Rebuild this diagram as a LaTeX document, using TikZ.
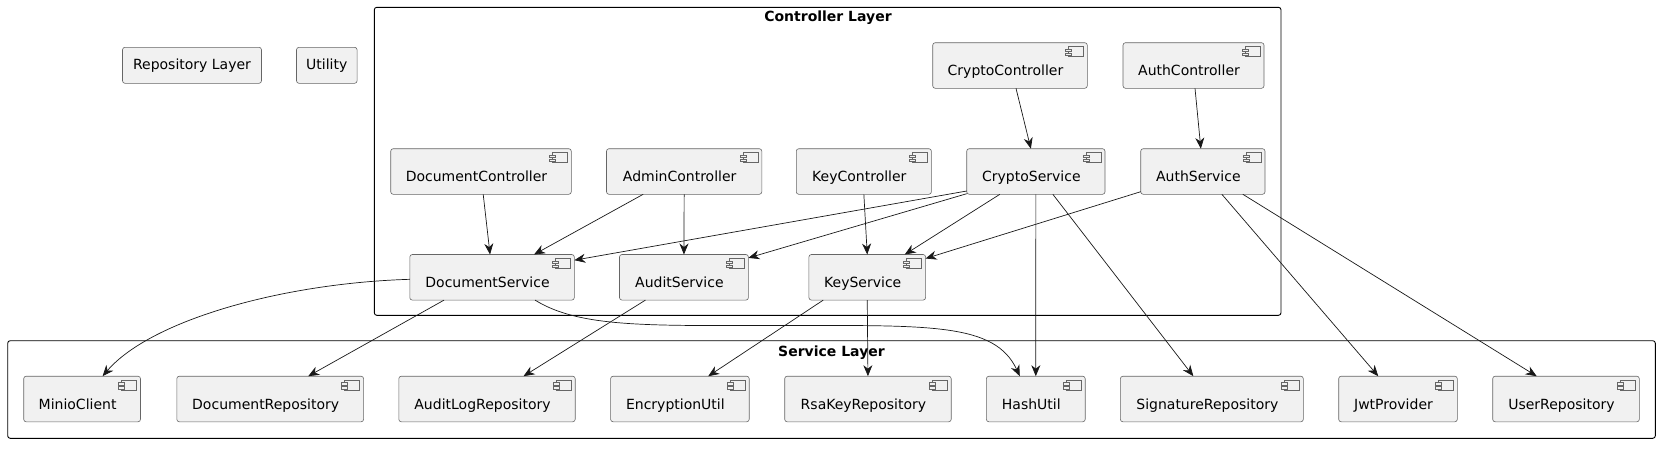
\documentclass[tikz,border=0pt]{standalone}
\usepackage{fontspec}
\setmainfont{DejaVu Sans}
\usetikzlibrary{arrows.meta,positioning}
\definecolor{compfill}{HTML}{F1F1F1}
\definecolor{umlline}{HTML}{181818}

\begin{document}
\begin{tikzpicture}[
  x=1pt,y=-1pt,
  font=\fontsize{14}{17}\selectfont,
  comp/.style={draw=black!60,line width=0.6pt,fill=compfill,rounded corners=2.5pt,
    minimum height=45.6pt,inner sep=0pt,outer sep=0pt,
    text height=23.5pt,text depth=3.3pt,execute at end node={\kern9pt}},
  plain/.style={draw=black!60,line width=0.6pt,fill=compfill,rounded corners=2.5pt,
    minimum height=36pt,inner sep=0pt,outer sep=0pt},
  layer/.style={draw=black,line width=0.9pt,rounded corners=2.5pt},
  ttl/.style={font=\fontsize{14}{17}\selectfont\bfseries},
  icon/.style={draw=black!60,line width=0.5pt,fill=compfill},
  arr/.style={-{Stealth[length=11pt,width=9pt,inset=3.5pt]},draw=umlline,line width=0.7pt}
]
\useasboundingbox (0,0) rectangle (1668,451);
% layers
\draw[layer] (374.3,7.3) rectangle (1281,315.3);
\draw[layer] (7.7,340.7) rectangle (1655.3,438.3);
\node[ttl] (ctltitle) at (828,17.5) {Controller Layer};
\node[ttl] (svctitle) at (831.5,352.5) {Service Layer};
% loose boxes
\node[plain,minimum width=139pt] (repolayer) at (192,65.3) {Repository Layer};
\node[plain,minimum width=60.6pt,right=35pt of repolayer] (utility) {Utility};
% controllers
\node[comp,minimum width=154.6pt] (cc) at (1010,65.5) {CryptoController};
\node[comp,minimum width=141pt,right=35.7pt of cc] (ac) {AuthController};
\node[comp,minimum width=180.6pt] (dc) at (481,171.5) {DocumentController};
\node[comp,minimum width=155.3pt,right=35.2pt of dc] (adc) {AdminController};
\node[comp,minimum width=135.1pt,right=34.5pt of adc] (kc) {KeyController};
\node[comp,minimum width=138.3pt,right=35.3pt of kc] (cs) {CryptoService};
\node[comp,minimum width=124.3pt,right=35.7pt of cs] (as) {AuthService};
% services
\node[comp,minimum width=164.5pt] (ds) at (492.05,277.3) {DocumentService};
\node[comp,minimum width=128.9pt,right=45.2pt of ds] (aus) {AuditService};
\node[comp,minimum width=116.7pt,right=60.5pt of aus] (ks) {KeyService};
% repositories and utils
\node[comp,minimum width=116.8pt] (mc) at (82.1,399) {MinioClient};
\node[comp,minimum width=186.8pt,right=36.3pt of mc] (dr) {DocumentRepository};
\node[comp,minimum width=176.4pt,right=35.2pt of dr] (alr) {AuditLogRepository};
\node[comp,minimum width=138.6pt,right=35.4pt of alr] (eu) {EncryptionUtil};
\node[comp,minimum width=166.5pt,right=35.5pt of eu] (rkr) {RsaKeyRepository};
\node[comp,minimum width=98.8pt,right=35.2pt of rkr] (hu) {HashUtil};
\node[comp,minimum width=182.9pt,right=35.2pt of hu] (sr) {SignatureRepository};
\node[comp,minimum width=118.6pt,right=35.4pt of sr] (jp) {JwtProvider};
\node[comp,minimum width=146.6pt,right=35.4pt of jp] (ur) {UserRepository};
% component icons
\foreach \n in {cc,ac,dc,adc,kc,cs,as,ds,aus,ks,mc,dr,alr,eu,rkr,hu,sr,jp,ur} {
  \draw[icon] ([xshift=-19pt,yshift=-4pt]\n.north east) rectangle ++(15,10);
  \draw[icon] ([xshift=-22pt,yshift=-6.5pt]\n.north east) rectangle ++(6,2.5);
  \draw[icon] ([xshift=-22pt,yshift=-10.5pt]\n.north east) rectangle ++(6,2.5);
}
\coordinate (dsbend) at (780,325.5);
% dependencies
\draw[arr] ([xshift=2.2pt]dc.south) -- ([xshift=-2pt]ds.north);
\draw[arr] ([xshift=-41pt]adc.south) -- ([xshift=42pt]ds.north);
\draw[arr] (adc.south) -- (aus.north);
\draw[arr] (kc.south) -- (ks.north);
\draw[arr] ([xshift=6pt]cc.south) -- ([xshift=-5pt]cs.north);
\draw[arr] ([xshift=1.5pt]ac.south) -- ([xshift=-2pt]as.north);
\draw[arr] ([yshift=3.3pt]cs.south west) -- ([yshift=-5.7pt]ds.north east);
\draw[arr] ([yshift=0.6pt]cs.south west) -- ([yshift=-3.4pt]aus.north east);
\draw[arr] ([xshift=-36pt]cs.south) -- ([xshift=37.5pt]ks.north);
\draw[arr] (cs.south) -- (hu.north);
\draw[arr] ([xshift=17pt]cs.south) -- ([xshift=-18.5pt]sr.north);
\draw[arr] ([yshift=2.6pt]as.south west) -- ([yshift=-4pt]ks.north east);
\draw[arr] ([xshift=19pt]as.south) -- ([xshift=-19.7pt]jp.north);
\draw[arr] ([xshift=40pt]as.south) -- ([xshift=-29.3pt]ur.north);
\draw[arr] ([yshift=-2pt]ds.west) .. controls +(-130,4) and +(47,-55) .. ([xshift=20.5pt]mc.north);
\draw[arr] ([xshift=-48pt]ds.south) -- ([xshift=38pt]dr.north);
\draw[arr] ([xshift=43pt]ds.south) .. controls +(45,28) and +(-130,0) .. (dsbend)
  .. controls +(150,0) and +(-25,-53.7) .. ([xshift=-16pt]hu.north);
\draw[arr] ([xshift=-38.5pt]aus.south) -- ([xshift=36.5pt]alr.north);
\draw[arr] ([xshift=-44pt]ks.south) -- ([xshift=28.3pt]eu.north);
\draw[arr] (ks.south) -- (rkr.north);
\end{tikzpicture}
\end{document}
